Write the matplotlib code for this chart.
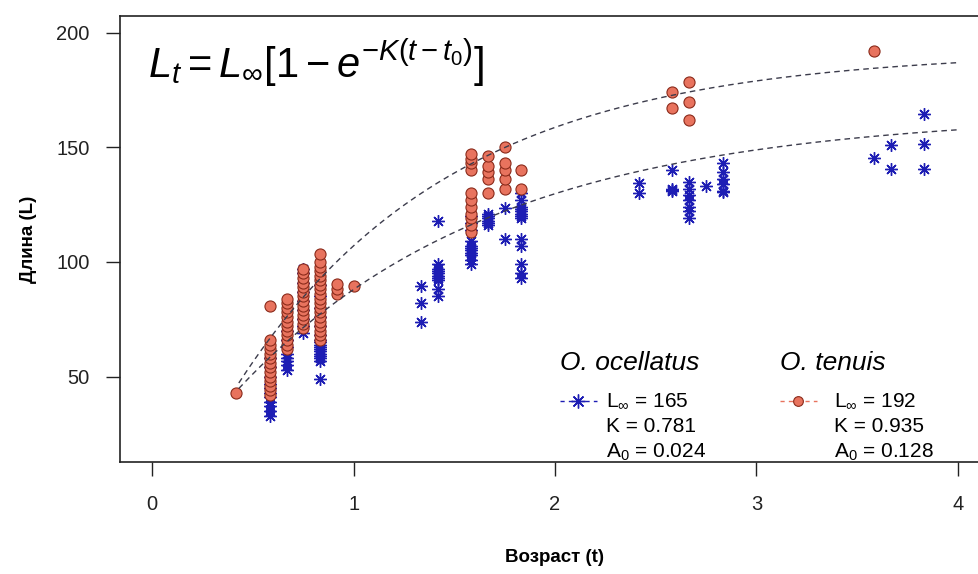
import numpy as np
import matplotlib
matplotlib.use("Agg")
import matplotlib.pyplot as plt

plt.rcParams["font.family"] = ["Liberation Sans", "DejaVu Sans"]
plt.rcParams["mathtext.fontset"] = "custom"
plt.rcParams["mathtext.rm"] = "Liberation Sans"
plt.rcParams["mathtext.it"] = "Liberation Sans:italic"
plt.rcParams["mathtext.bf"] = "Liberation Sans:bold"

# O. ocellatus: age classes (years) and body lengths
oc_ages = [0.583, 0.667, 0.75, 0.833, 1.333, 1.417, 1.583, 1.667, 1.75,
           1.833, 2.417, 2.583, 2.667, 2.75, 2.833, 3.583, 3.667, 3.833]
oc_lengths = [
    [33, 35, 37, 39, 41, 43, 45, 47, 50, 54, 58],
    [53, 55, 57, 58, 60, 63, 66, 70],
    [69, 72, 75, 79, 83, 87, 91, 95, 97],
    [49, 57, 58, 59, 60, 61, 62, 63, 64, 65, 66, 68, 72, 76, 80, 85, 90],
    [74, 82, 89.5],
    [85, 88, 92, 93, 94, 95, 96, 97, 99, 118],
    [99, 101, 103, 104, 105, 106, 107, 109, 114, 117, 120],
    [116, 117, 118, 119, 120, 121],
    [110, 123.5],
    [93, 95, 99, 107, 110, 119, 120, 121, 122, 123, 124, 127, 130],
    [130, 134.5],
    [131, 131.5, 132, 140],
    [119, 122, 124, 127, 129, 132, 135],
    [133],
    [130.5, 131, 134, 136, 139, 143],
    [145.5],
    [140.5, 151],
    [140.5, 151.5, 164.5],
]

# O. tenuis
te_ages = [0.417, 0.583, 0.667, 0.75, 0.833, 0.917, 1.0, 1.583, 1.667,
           1.75, 1.833, 2.583, 2.667, 3.583]
te_lengths = [
    [43],
    [42, 44, 46, 48, 50, 52, 54, 56, 58, 60, 62, 64, 66, 81],
    [62, 64, 66, 68, 70, 72, 74, 76, 78, 80, 82, 84],
    [71, 73, 75, 77, 79, 81, 83, 85, 87, 89, 91, 93, 95, 97],
    [66, 68, 70, 72, 74, 76, 78, 80, 82, 84, 86, 88, 90, 92, 94, 96, 98,
     100, 103.5],
    [86, 88, 90.5],
    [89.5],
    [113, 116, 119, 121, 124, 127, 130, 140, 143, 145, 147],
    [130, 136, 139, 142, 146],
    [132, 136, 140, 143, 150],
    [132, 140],
    [167, 174],
    [162, 169.5, 178.5],
    [192],
]

# von Bertalanffy parameters from the legend (Linf, K, t0)
oc_params = [165, 0.781, 0.024]
te_params = [192, 0.935, 0.128]
fit_range = [0.43, 4.0]

x_ticks = [0, 1, 2, 3, 4]
y_ticks = [50, 100, 150, 200]

oc_color = "#1d1db4"
te_fill = "#e8735e"
te_edge = "#8a2a1a"
curve_color = "#3c3c4c"


def flatten(ages, groups):
    x = list()
    y = list()
    for age, vals in zip(ages, groups):
        for v in vals:
            x.append(age)
            y.append(v)
    return np.array(x), np.array(y)


def vbgf(t, params):
    linf, k, t0 = params
    return linf * (1.0 - np.exp(-k * (t - t0)))


def plot_growth():
    fig = plt.figure(figsize=(9.79, 5.74), dpi=100)
    ax = fig.add_axes([120 / 979, 112 / 574, 870 / 979, 446 / 574])

    oc_x, oc_y = flatten(oc_ages, oc_lengths)
    te_x, te_y = flatten(te_ages, te_lengths)

    ax.plot(oc_x, oc_y, linestyle="none", marker=(8, 2, 0), markersize=9,
            markeredgewidth=1.0, color=oc_color, zorder=3)
    ax.plot(te_x, te_y, linestyle="none", marker="o", markersize=8,
            markerfacecolor=te_fill, markeredgecolor=te_edge,
            markeredgewidth=0.8, zorder=4)

    t = np.linspace(fit_range[0], fit_range[1], 200)
    ax.plot(t, vbgf(t, oc_params), color=curve_color, lw=1.0,
            dashes=(4, 3), zorder=5)
    ax.plot(t, vbgf(t, te_params), color=curve_color, lw=1.0,
            dashes=(4, 3), zorder=5)

    ax.set_xlim(-0.16, 4.16)
    ax.set_ylim(12.8, 207.2)
    ax.set_xticks(x_ticks)
    ax.set_yticks(y_ticks)
    ax.tick_params(direction="out", length=10, width=1, labelsize=14.5,
                   colors="#222222")
    ax.tick_params(axis="x", pad=14)
    ax.tick_params(axis="y", pad=12)
    for sp in ax.spines.values():
        sp.set_linewidth(1.2)
        sp.set_color("#222222")

    ax.set_xlabel("Возраст (t)", fontsize=13.5, fontweight="bold",
                  labelpad=25)
    ax.set_ylabel("Длина (L)", fontsize=13.5, fontweight="bold",
                  labelpad=14)

    ax.text(0.032, 0.861, r"$L_t = L_\infty[1 - e^{-K(t - t_0)}]$",
            transform=ax.transAxes, fontsize=30, va="baseline", ha="left")

    # legend blocks
    blocks = [
        ("O. ocellatus", 0.5057, 0.559, oc_params, "oc"),
        ("O. tenuis", 0.7586, 0.821, te_params, "te"),
    ]
    key_y = 0.1368
    for title, x0, xt, params, kind in blocks:
        ax.text(x0, 0.222, title, transform=ax.transAxes, fontsize=19,
                style="italic", va="center", ha="left")
        kx = [x0, x0 + 0.043]
        if kind == "oc":
            ax.plot(kx, [key_y, key_y], transform=ax.transAxes,
                    color=oc_color, lw=1.0, dashes=(3, 3), clip_on=False)
            ax.plot([x0 + 0.021], [key_y], transform=ax.transAxes,
                    marker=(8, 2, 0), markersize=10, color=oc_color,
                    linestyle="none", clip_on=False)
        else:
            ax.plot(kx, [key_y, key_y], transform=ax.transAxes,
                    color=te_fill, lw=1.0, dashes=(3, 3), clip_on=False)
            ax.plot([x0 + 0.021], [key_y], transform=ax.transAxes,
                    marker="o", markersize=7, markerfacecolor=te_fill,
                    markeredgecolor=te_edge, markeredgewidth=0.8,
                    linestyle="none", clip_on=False)
        lines = [r"L$_\infty$ = %d" % params[0],
                 "K = %.3f" % params[1],
                 r"A$_0$ = %.3f" % params[2]]
        for i, s in enumerate(lines):
            ax.text(xt, key_y - i * 0.0572, s, transform=ax.transAxes,
                    fontsize=15, va="center", ha="left")

    fig.savefig("out.png", dpi=100)


plot_growth()
